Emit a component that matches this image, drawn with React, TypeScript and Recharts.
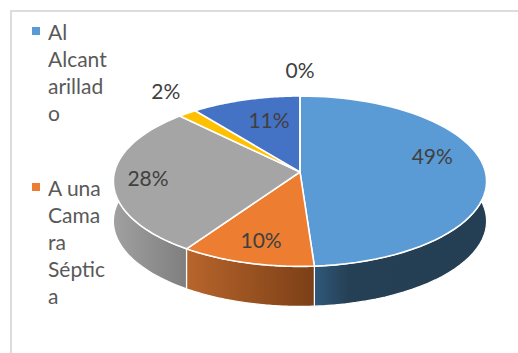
import React from "react";
import { PieChart, Pie, Cell } from "recharts";

const categories = ["Al Alcantarillado", "A una Camara Séptica", "Categoría 3", "Categoría 4", "Categoría 5", "Categoría 6"];
const shares = [48.9, 10.5, 28.3, 1.8, 10.5, 0];
const shareLabels = ["49%", "10%", "28%", "2%", "11%", "0%"];
const legendLines = [["Al", "Alcant", "arillad", "o"], ["A una", "Cama", "ra", "Séptic", "a"]];

const topFills = ["#5b9bd5", "#ed7d31", "#a5a5a5", "#ffc000", "#4472c4", "#70ad47"];
const wallFills = ["url(#wallBlue)", "url(#wallOrange)", "url(#wallGrey)", "#997300", "#264478", "#43682b"];
const labelPlacement = [
  { f: 0.71, dx: 1, dy: -14 },
  { f: 0.75, dx: 0, dy: 1 },
  { f: 0.8, dx: -3, dy: -1 },
  { f: 1.2, dx: -1, dy: -12 },
  { f: 0.6, dx: 3, dy: -7 },
  { f: 1.33, dx: 0, dy: -5 },
];

const PERSPECTIVE = 0.108;
const SQUASH = 84.2 / 185.5;
const DEPTH = 40;

const project = (cx: number, cy: number, r: number, deg: number, f = 1) => {
  const a = (deg * Math.PI) / 180;
  const X = Math.cos(a) * f;
  const Y = -Math.sin(a) * f;
  const w = 1 - PERSPECTIVE * Y;
  return { x: cx + (r * X) / w, y: cy + (r * SQUASH * Y) / w };
};

const arcPoints = (p: any) => {
  const pts = [];
  const n = 60;
  for (let i = 0; i <= n; i++) {
    pts.push(project(p.cx, p.cy, p.outerRadius, p.startAngle + ((p.endAngle - p.startAngle) * i) / n));
  }
  return pts;
};

const TopFace = (p: any) => {
  const pts = arcPoints(p);
  const d = `M${p.cx},${p.cy} ` + pts.map((q: any) => `L${q.x},${q.y}`).join(" ") + " Z";
  return <path d={d} fill={p.fill} stroke="#fff" strokeWidth={1.6} strokeLinejoin="round" />;
};

const Wall = (p: any) => {
  const pts = arcPoints(p);
  const upper = pts.map((q: any) => `${q.x},${q.y}`);
  const lower = pts.slice().reverse().map((q: any) => `${q.x},${q.y + DEPTH}`);
  return <path d={`M${upper.join(" L")} L${lower.join(" L")} Z`} fill={p.fill} stroke="#fff" strokeWidth={1.2} />;
};

const renderLabel = (p: any) => {
  const place = labelPlacement[p.index];
  const q = project(p.cx, p.cy, p.outerRadius, p.midAngle, place.f);
  return (
    <text x={q.x + place.dx} y={q.y + place.dy} textAnchor="middle" dominantBaseline="central" fill="#404040" fontSize={21} fontFamily="Lato, sans-serif">
      {shareLabels[p.index]}
    </text>
  );
};

const LegendBlock = () => (
  <div style={{ position: "absolute", left: 48, top: 18, width: 90, fontFamily: "Lato, sans-serif", fontSize: 21, color: "#595959", lineHeight: "27px" }}>
    {legendLines.map((lines, i) => (
      <div key={i} style={{ position: "absolute", left: 0, top: i === 0 ? 0 : 156 }}>
        <span style={{ position: "absolute", left: -16, top: 9, width: 8, height: 8, background: topFills[i] }} />
        {lines.map((line, j) => <div key={j}>{line}</div>)}
      </div>
    ))}
  </div>
);

const rows = categories.map((name, i) => ({ name, value: shares[i] }));

export default function App() {
  return (
    <div style={{ position: "absolute", left: 0, top: 0, width: 518, height: 353, background: "#fff", overflow: "hidden" }}>
      <div style={{ position: "absolute", left: 10, top: 10, width: 520, height: 360, borderLeft: "2px solid #dcdcdc", borderTop: "2px solid #dcdcdc" }} />
      <PieChart width={518} height={353} style={{ position: "absolute", left: 0, top: 0 }} margin={{ top: 0, right: 0, bottom: 0, left: 0 }}>
        <defs>
          <linearGradient id="wallBlue" gradientUnits="userSpaceOnUse" x1="315" y1="0" x2="487" y2="0">
            <stop offset="0" stopColor="#30587a" />
            <stop offset="0.2" stopColor="#253f55" />
            <stop offset="1" stopColor="#243e54" />
          </linearGradient>
          <linearGradient id="wallOrange" gradientUnits="userSpaceOnUse" x1="186" y1="0" x2="315" y2="0">
            <stop offset="0" stopColor="#b8652b" />
            <stop offset="1" stopColor="#7b3f17" />
          </linearGradient>
          <linearGradient id="wallGrey" gradientUnits="userSpaceOnUse" x1="114" y1="0" x2="186" y2="0">
            <stop offset="0" stopColor="#a0a0a0" />
            <stop offset="1" stopColor="#7f7f7f" />
          </linearGradient>
        </defs>
        <Pie data={rows} dataKey="value" nameKey="name" cx={300} cy={172} outerRadius={185.5} startAngle={90} endAngle={-270} isAnimationActive={false} shape={Wall} stroke="none">
          {rows.map((_, i) => <Cell key={i} fill={wallFills[i]} />)}
        </Pie>
        <Pie data={rows} dataKey="value" nameKey="name" cx={300} cy={172} outerRadius={185.5} startAngle={90} endAngle={-270} isAnimationActive={false} shape={TopFace} label={renderLabel} labelLine={false}>
          {rows.map((_, i) => <Cell key={i} fill={topFills[i]} />)}
        </Pie>
      </PieChart>
      <LegendBlock />
    </div>
  );
}
